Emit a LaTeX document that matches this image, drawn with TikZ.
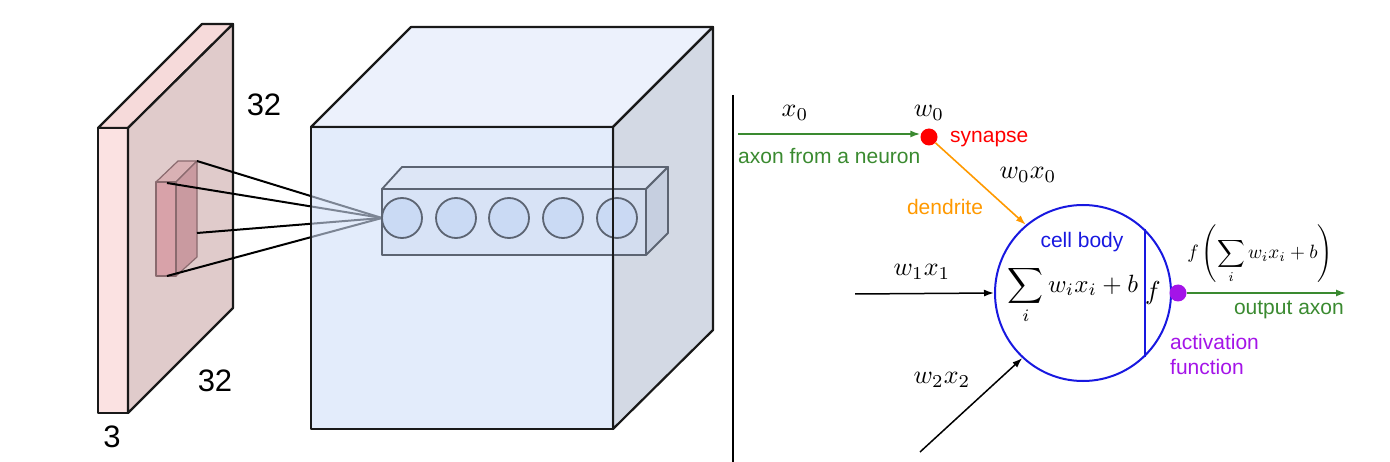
\documentclass[tikz,border=0pt]{standalone}
\usepackage{amsmath}
\usepackage[no-math]{fontspec}
\setmainfont{Liberation Sans}
\usetikzlibrary{arrows.meta}
\definecolor{slabthin}{HTML}{FBE2E2}
\definecolor{slabtop}{HTML}{F6DADA}
\definecolor{slabface}{HTML}{E0CBCB}
\definecolor{prfront}{HTML}{D8A2A9}
\definecolor{prside}{HTML}{C99AA0}
\definecolor{prtop}{HTML}{D9B1B4}
\definecolor{prline}{HTML}{8A6A6E}
\definecolor{cubetop}{HTML}{ECF1FC}
\definecolor{cubeside}{HTML}{D3D9E4}
\definecolor{cubefront}{HTML}{D0DFF8}
\definecolor{boxline}{HTML}{5C6472}
\definecolor{boxfront}{HTML}{D4E0F5}
\definecolor{boxtop}{HTML}{DCE5F5}
\definecolor{boxside}{HTML}{C3CDDF}
\definecolor{neur}{HTML}{C8D8F4}
\definecolor{axgreen}{HTML}{3A8A30}
\definecolor{dendor}{HTML}{FF9900}
\definecolor{cbblue}{HTML}{1818E0}
\definecolor{actviol}{HTML}{A414E8}
\tikzset{
  edgeline/.style={draw=black!90, line width=2.2pt, line join=round},
  prism/.style={draw=prline, line width=1.2pt, line join=round},
  boxst/.style={draw=boxline, line width=1.8pt, line join=round},
  lab/.style={font=\fontsize{21}{24}\selectfont, inner sep=0pt},
  bignum/.style={font=\fontsize{31}{34}\selectfont, inner sep=0pt},
  mlab/.style={scale=2.6, inner sep=0pt},
  tip/.style={-{Latex[length=10pt,width=7pt]}},
  dot/.style={circle, minimum size=17pt, inner sep=0pt},
}
\begin{document}
\begin{tikzpicture}[x=1pt,y=-1pt]
\useasboundingbox (0,0) rectangle (1390,462);
% ---------------- input volume (slab)
\filldraw[edgeline, fill=slabtop] (98,128) -- (202,24) -- (233,24) -- (128,128) -- cycle;
\filldraw[edgeline, fill=slabthin] (98,128) rectangle (128,413);
\filldraw[edgeline, fill=slabface] (128,128) -- (233,24) -- (233,308) -- (128,413) -- cycle;
% receptive field prism
\filldraw[prism, fill=prtop] (156,182) -- (178,161) -- (197,161) -- (176,182) -- cycle;
\filldraw[prism, fill=prside] (176,182) -- (197,161) -- (197,257) -- (176,276) -- cycle;
\filldraw[prism, fill=prfront] (156,182) rectangle (176,276);
% labels
\node[bignum] (n32a) at (264,105) {32};
\node[bignum] (n32b) at (215,381) {32};
\node[bignum] (n3) at (112,437) {3};
% ---------------- output volume (cube)
\filldraw[edgeline, fill=cubetop] (311,127) -- (411,27) -- (713,27) -- (613,127) -- cycle;
\filldraw[edgeline, fill=cubeside] (613,127) -- (713,27) -- (713,330) -- (613,429) -- cycle;
% connections from receptive field to first neuron
\coordinate (conv) at (382,218);
\draw[line width=2pt] (197,161) -- (conv);
\draw[line width=2pt] (167,183) -- (conv);
\draw[line width=2pt] (197,233) -- (conv);
\draw[line width=2pt] (167,276) -- (conv);
% cube front face (translucent)
\fill[cubefront, fill opacity=0.6] (311,127) rectangle (613,429);
\draw[edgeline] (311,127) rectangle (613,429);
% depth column of neurons
\filldraw[boxst, fill=boxtop, fill opacity=0.8] (382,189) -- (402,167) -- (668,167) -- (646,189) -- cycle;
\filldraw[boxst, fill=boxside, fill opacity=0.8] (646,189) -- (668,167) -- (668,233) -- (646,255) -- cycle;
\filldraw[boxst, fill=boxfront, fill opacity=0.7] (382,189) rectangle (646,255);
\foreach \cx/\nm in {402/c1,456/c2,509/c3,563/c4,617/c5}{
  \node[circle, boxst, fill=neur, fill opacity=0.8, minimum size=40pt, inner sep=0pt] (\nm) at (\cx,218) {};
}
\draw[edgeline] (613,127) -- (613,429);
% ---------------- divider
\draw[line width=2pt] (733,95) -- (733,462);
% ---------------- neuron model
\node[circle, draw=cbblue, line width=2pt, minimum size=176pt, inner sep=0pt] (cb) at (1083,293) {};
\draw[cbblue, line width=2pt] (cb.46) -- (cb.-46);
\node[dot, fill=red] (syn) at (929,137) {};
\node[dot, fill=actviol] (act) at (1178,293) {};
\coordinate (axs) at (738,134);
\coordinate (w1s) at (855,294);
\coordinate (w2s) at (920,452);
\coordinate (oute) at (1346,293);
\draw[tip, axgreen, line width=1.6pt] (axs) -- (syn.west |- axs);
\draw[tip, dendor, line width=1.6pt] (syn) -- (cb.130);
\draw[tip, black, line width=1.5pt] (w1s) -- (cb.west);
\draw[tip, black, line width=1.5pt] (w2s) -- (cb.227);
\draw[tip, axgreen, line width=1.6pt] (act) -- (oute);
% math labels
\node[mlab] (x0) at (795,113) {$x_0$};
\node[mlab] (w0) at (929,113) {$w_0$};
\node[mlab] (w0x0) at (1028,175) {$w_0x_0$};
\node[mlab] (w1x1) at (922,272) {$w_1x_1$};
\node[mlab] (w2x2) at (942,380) {$w_2x_2$};
\node[mlab, scale=0.96] (sum) at (1073,295) {$\displaystyle\sum_i w_ix_i+b$};
\node[mlab] (fl) at (1153,293) {$f$};
\node[mlab, scale=0.74] (fsum) at (1260,254) {$\displaystyle f\left(\sum_i w_ix_i+b\right)$};
% text labels
\node[lab, text=red, anchor=west] (synl) at (950,139) {synapse};
\node[lab, text=axgreen, anchor=west] (axl) at (738,156) {axon from a neuron};
\node[lab, text=dendor] (dendl) at (945,207) {dendrite};
\node[lab, text=cbblue] (cbl) at (1082,242) {cell body};
\node[lab, text=axgreen, anchor=east] (outl) at (1344,310) {output axon};
\node[lab, text=actviol, anchor=west] (actl1) at (1170,342) {activation};
\node[lab, text=actviol, anchor=west] (actl2) at (1170,367) {function};
\end{tikzpicture}
\end{document}
